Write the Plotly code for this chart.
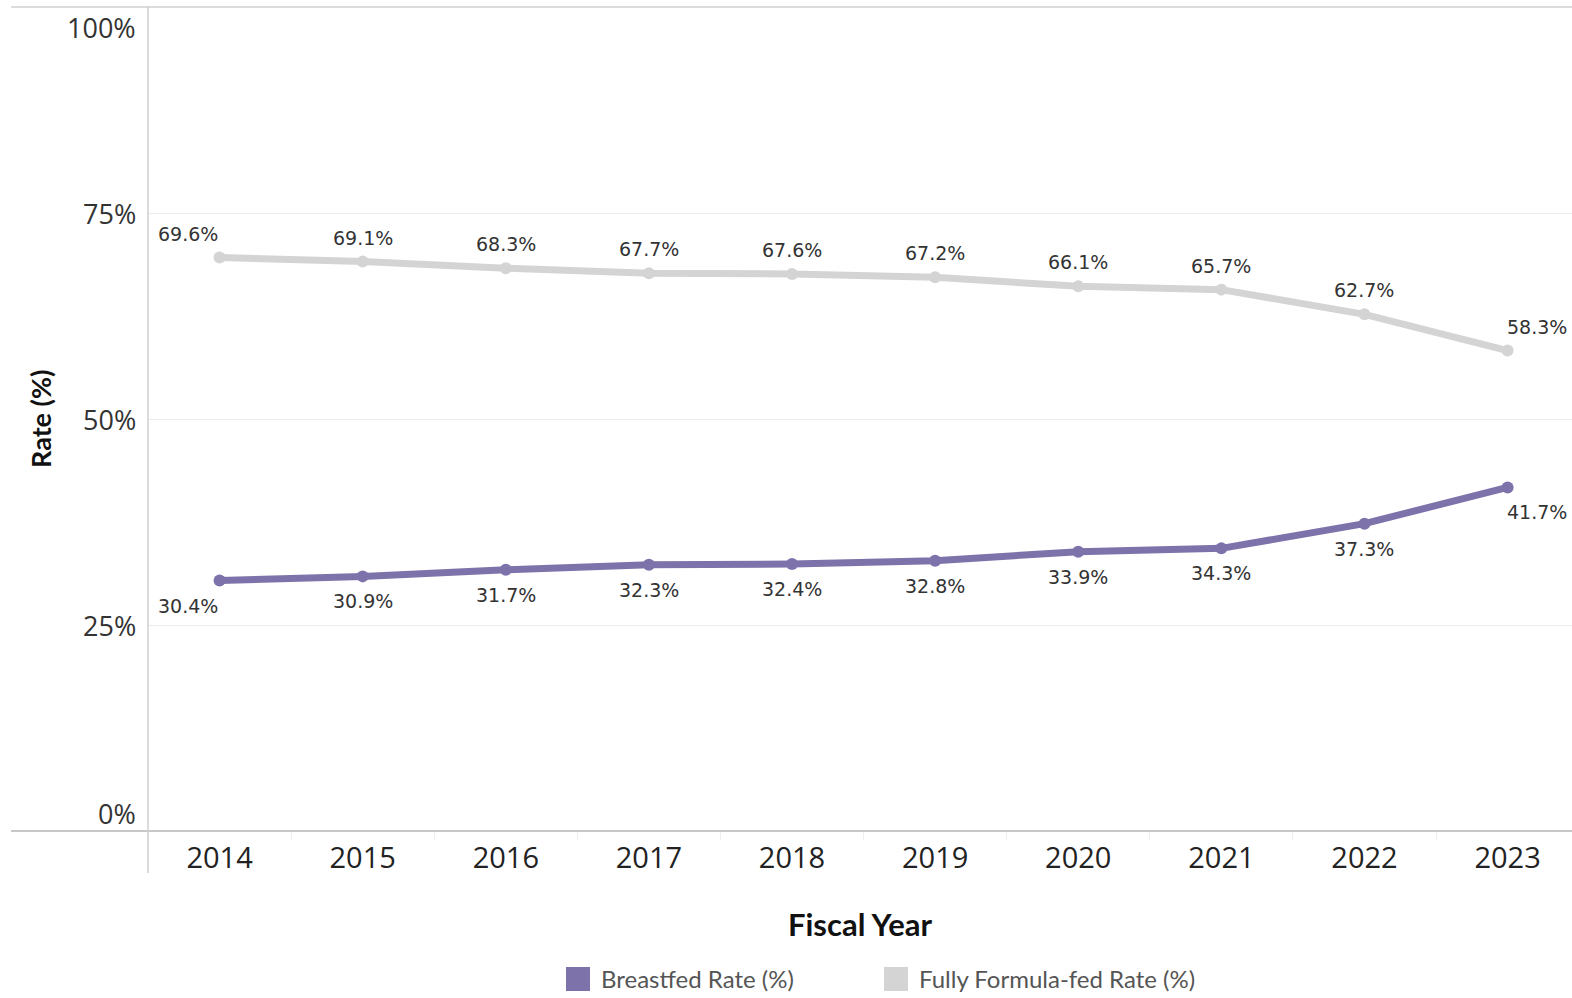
import plotly.graph_objects as go

years = ["2014", "2015", "2016", "2017", "2018", "2019", "2020", "2021", "2022", "2023"]
breastfed = [30.4, 30.9, 31.7, 32.3, 32.4, 32.8, 33.9, 34.3, 37.3, 41.7]
formula = [69.6, 69.1, 68.3, 67.7, 67.6, 67.2, 66.1, 65.7, 62.7, 58.3]
series_names = ["Breastfed Rate (%)", "Fully Formula-fed Rate (%)"]
y_ticks = [0, 25, 50, 75, 100]
y_tick_text = ["0%", "25%", "50%", "75%", "100%"]

PURPLE = "#7e72ab"
GREY = "#d4d4d4"
W, H = 1572, 998
L, R, T, B = 148, 0, 7, 167
PW = W - L - R
PH = H - T - B

fig = go.Figure()
for vals, col in [(formula, GREY), (breastfed, PURPLE)]:
    fig.add_trace(go.Scatter(
        x=years, y=vals, mode="lines+markers",
        line=dict(color=col, width=7),
        marker=dict(color=col, size=12),
        showlegend=False, hoverinfo="skip"))

annotations = []
n = len(years)
for vals, shift in [(formula, 24), (breastfed, -25)]:
    for i, v in enumerate(vals):
        anchor = "right" if i == 0 else ("left" if i == n - 1 else "center")
        xs = -3 if i == n - 1 else 0
        annotations.append(dict(
            x=i, y=v, xref="x", yref="y", text=f"{v:.1f}%", showarrow=False,
            xanchor=anchor, yanchor="middle", yshift=shift, xshift=xs,
            font=dict(family="DejaVu Sans", size=19, color="#333333")))

# y tick labels (Tableau style: end labels shifted inward)
for tv, tt in zip(y_ticks, y_tick_text):
    ys = -20 if tv == 100 else (18 if tv == 0 else 0)
    annotations.append(dict(
        x=0, y=tv, xref="paper", yref="y", text=tt, showarrow=False,
        xanchor="right", yanchor="middle", xshift=-10, yshift=ys,
        font=dict(family="Open Sans", size=27, color="#333333")))

# y axis title
annotations.append(dict(
    x=(40 - L) / PW, y=0.5, xref="paper", yref="paper", text="Rate (%)",
    showarrow=False, textangle=-90, xanchor="center", yanchor="middle",
    font=dict(family="Lato", size=27, color="#111111", weight="bold")))

# legend (manual)
legend_x = [566, 884]
shapes = []
for name, col, lx in zip(series_names, [PURPLE, GREY], legend_x):
    shapes.append(dict(type="rect", xref="paper", yref="paper",
                       x0=(lx - L) / PW, x1=(lx + 24 - L) / PW,
                       y0=(H - B - 991) / PH, y1=(H - B - 967) / PH,
                       fillcolor=col, line=dict(width=0)))
    annotations.append(dict(
        x=(lx + 33 - L) / PW, y=(H - B - 979) / PH, xref="paper", yref="paper",
        text=name, showarrow=False, xanchor="left", yanchor="middle",
        font=dict(family="Lato", size=24, color="#555555")))

# pane borders
shapes.append(dict(type="line", xref="paper", yref="paper",
                   x0=(11 - L) / PW, x1=1, y0=1, y1=1,
                   line=dict(color="#d0d0d0", width=1.5)))
shapes.append(dict(type="line", xref="paper", yref="paper",
                   x0=(11 - L) / PW, x1=1, y0=0, y1=0,
                   line=dict(color="#c8c8c8", width=2)))
shapes.append(dict(type="line", xref="paper", yref="paper",
                   x0=0, x1=0, y0=(-42) / PH, y1=1,
                   line=dict(color="#cfcfcf", width=1.5)))

fig.update_layout(
    width=W, height=H,
    margin=dict(l=L, r=R, t=T, b=B, autoexpand=False),
    plot_bgcolor="white", paper_bgcolor="white",
    annotations=annotations, shapes=shapes,
    xaxis=dict(type="category", range=[-0.5, 9.45], showgrid=False,
               showline=False, zeroline=False,
               ticks="outside", tickson="boundaries", ticklen=8,
               tickcolor="#eeeeee", tickwidth=1, ticklabelstandoff=7,
               tickfont=dict(family="Open Sans", size=29, color="#222222"),
               title=dict(text="Fiscal Year", standoff=39,
                          font=dict(family="Lato", size=31, color="#111111",
                                    weight="bold"))),
    yaxis=dict(range=[0, 100], tickvals=y_ticks, showticklabels=False,
               showgrid=True, gridcolor="#ececec", gridwidth=1,
               zeroline=False, showline=False, fixedrange=True),
)

fig.write_html("out.html", config={"displayModeBar": False},
               post_script="document.body.style.margin='0';")
